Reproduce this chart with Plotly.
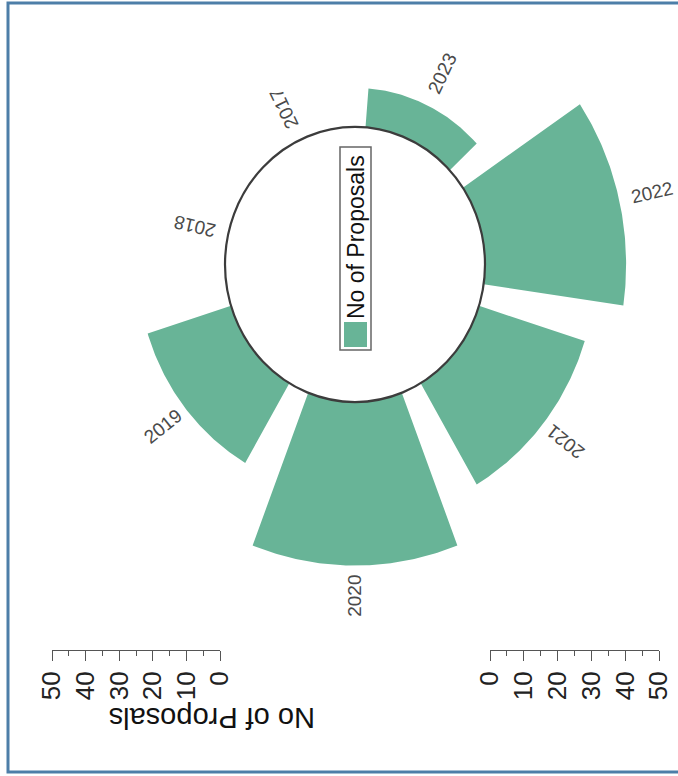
import numpy as np
import plotly.graph_objects as go

# ---- data ----
years = ["2017", "2018", "2019", "2020", "2021", "2022", "2023"]
proposals = [0, 0, 26, 46, 33, 42, 11]
scale_ticks = [0, 10, 20, 30, 40, 50]
legend_title = "No of Proposals"

# ---- geometry / style ----
W, H = 678, 776
CX, CY = 355.0, 264.5          # centre of the ring, px
KX, KY = 3.36, 3.555           # px per unit (image is slightly stretched vertically)
R0 = 130.0 / KX                # hole radius in data units
STEP = 360.0 / len(years)
BAR_FRAC = 0.82
GAP_OUT, GAP_IN = 10.0, 8.5    # label distance beyond bar end (outward / inward-reading)
GREEN = "#68b497"
FONT = "Liberation Sans, Arial, sans-serif"

xr = [-CX / KX, (W - CX) / KX]
yr = [-(H - CY) / KY, CY / KY]

fig = go.Figure()

annotations = []
for i, (yr_lbl, v) in enumerate(zip(years, proposals)):
    theta_c = -STEP / 2 - i * STEP          # degrees clockwise from up
    if v > 0:
        half = BAR_FRAC * STEP / 2
        th = np.radians(np.linspace(theta_c - half, theta_c + half, 80))
        r1 = R0 + v
        xs = np.concatenate([r1 * np.sin(th), R0 * np.sin(th[::-1])])
        ys = np.concatenate([r1 * np.cos(th), R0 * np.cos(th[::-1])])
        fig.add_trace(go.Scatter(x=np.append(xs, xs[0]), y=np.append(ys, ys[0]),
                                 mode="lines", fill="toself", fillcolor=GREEN,
                                 line=dict(width=0, color=GREEN), hoverinfo="skip",
                                 showlegend=False))
    t = np.radians(theta_c)
    outward = np.cos(t) > 0
    rl = R0 + v + (GAP_OUT if outward else GAP_IN)
    ang = theta_c - 90 if outward else theta_c + 90
    ang = ((ang + 180) % 360) - 180
    annotations.append(dict(x=rl * np.sin(t), y=rl * np.cos(t), xref="x", yref="y",
                            xanchor="center", yanchor="middle",
                            text=yr_lbl, showarrow=False, textangle=ang,
                            font=dict(size=19, color="#4a4a4a", family=FONT)))

# dummy traces for the two scale rulers
fig.add_trace(go.Scatter(x=[None], y=[None], xaxis="x2", yaxis="y2", showlegend=False))
fig.add_trace(go.Scatter(x=[None], y=[None], xaxis="x3", yaxis="y3", showlegend=False))

ruler_common = dict(
    showline=True, linecolor="#555", linewidth=1,
    ticks="outside", ticklen=10, tickwidth=1, tickcolor="#555",
    tickvals=scale_ticks, ticktext=[str(s) for s in scale_ticks],
    tickangle=-90, tickfont=dict(size=26, color="#222", family=FONT),
    minor=dict(dtick=5, tick0=0, ticks="outside", ticklen=5, tickcolor="#555"),
    showgrid=False, zeroline=False, fixedrange=True, automargin=False,
)
ruler_y = [1 - 650 / H, 1 - 645 / H]

# legend text
annotations.append(dict(x=356 / W, y=1 - 237 / H, xref="paper", yref="paper",
                        xanchor="center", yanchor="middle",
                        text=legend_title, showarrow=False, textangle=-90,
                        font=dict(size=23, color="#111", family=FONT)))
# scale title (upside down)
annotations.append(dict(x=212 / W, y=1 - 718 / H, xref="paper", yref="paper",
                        xanchor="center", yanchor="middle",
                        text=legend_title, showarrow=False, textangle=180,
                        font=dict(size=29, color="#111", family=FONT)))

shapes = [
    # hole outline
    dict(type="circle", xref="x", yref="y", x0=-R0, x1=R0, y0=-R0, y1=R0,
         line=dict(color="#3c3c3c", width=2.2), layer="above"),
    # legend box
    dict(type="rect", xref="paper", yref="paper", x0=340 / W, x1=371 / W,
         y0=1 - 350 / H, y1=1 - 147 / H, line=dict(color="#666", width=1.5)),
    dict(type="rect", xref="paper", yref="paper", x0=344 / W, x1=367 / W,
         y0=1 - 347 / H, y1=1 - 322 / H, fillcolor=GREEN, line=dict(width=0)),
    # outer frame
    dict(type="rect", xref="paper", yref="paper", x0=8 / W, x1=1.02,
         y0=1 - 772 / H, y1=1 - 3 / H, line=dict(color="#4d7ea8", width=3)),
]

fig.update_layout(
    width=W, height=H, margin=dict(l=0, r=0, t=0, b=0, autoexpand=False),
    paper_bgcolor="white", plot_bgcolor="white", showlegend=False,
    xaxis=dict(range=xr, visible=False, domain=[0, 1], fixedrange=True, automargin=False),
    yaxis=dict(range=yr, visible=False, domain=[0, 1], fixedrange=True, automargin=False),
    xaxis2=dict(domain=[52 / W, 220 / W], range=[50, 0], anchor="y2", **ruler_common),
    yaxis2=dict(domain=ruler_y, visible=False, range=[0, 1], anchor="x2", automargin=False),
    xaxis3=dict(domain=[490 / W, 659 / W], range=[0, 50], anchor="y3", **ruler_common),
    yaxis3=dict(domain=ruler_y, visible=False, range=[0, 1], anchor="x3", automargin=False),
    annotations=annotations, shapes=shapes,
)

fig.write_html(
    "out.html",
    config={"displayModeBar": False},
    post_script="document.body.style.margin='0';document.body.style.overflow='hidden';",
)
